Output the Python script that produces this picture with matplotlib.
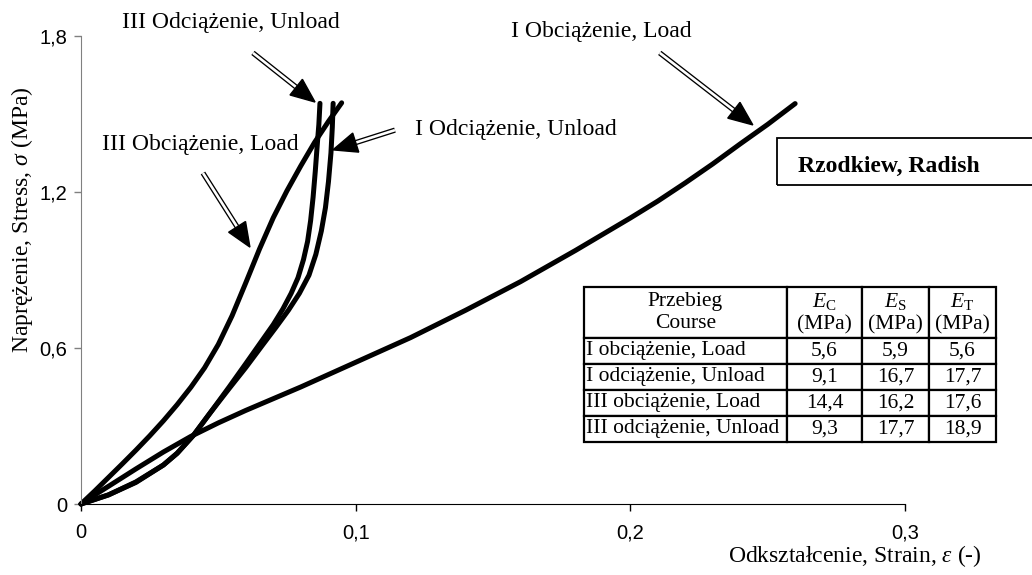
import numpy as np
import matplotlib
matplotlib.use("Agg")
import matplotlib.pyplot as plt
from matplotlib.patches import Polygon, Rectangle

plt.rcParams['font.family'] = ['Liberation Serif', 'DejaVu Serif']
plt.rcParams['mathtext.fontset'] = 'custom'
plt.rcParams['mathtext.rm'] = 'Liberation Serif'
plt.rcParams['mathtext.it'] = 'Liberation Serif:italic'

# strain / stress curves
load1_x = [0, 0.005, 0.01, 0.02, 0.03, 0.04, 0.05, 0.06, 0.08, 0.10, 0.12, 0.14, 0.16, 0.18, 0.20, 0.21,
           0.22, 0.23, 0.24, 0.25, 0.26]
load1_y = [0, 0.035, 0.068, 0.135, 0.20, 0.26, 0.312, 0.36, 0.45, 0.545, 0.64, 0.745, 0.855, 0.975, 1.10, 1.165,
           1.235, 1.308, 1.385, 1.46, 1.54]

unload1_x = [0, 0.01, 0.02, 0.03, 0.035, 0.041, 0.047, 0.054, 0.06, 0.066, 0.071, 0.0755, 0.0795, 0.083,
             0.0855, 0.0875, 0.089, 0.0901, 0.091, 0.0915, 0.0918]
unload1_y = [0, 0.035, 0.083, 0.15, 0.195, 0.265, 0.35, 0.445, 0.525, 0.61, 0.68, 0.745, 0.81, 0.88,
             0.96, 1.05, 1.14, 1.24, 1.35, 1.45, 1.541]

load3_x = [0, 0.005, 0.01, 0.015, 0.02, 0.025, 0.03, 0.035, 0.04, 0.045, 0.05, 0.055, 0.06, 0.065, 0.07,
           0.075, 0.08, 0.085, 0.09, 0.0949]
load3_y = [0, 0.05, 0.102, 0.154, 0.207, 0.262, 0.32, 0.382, 0.449, 0.524, 0.614, 0.724, 0.851, 0.981, 1.101,
           1.205, 1.30, 1.39, 1.47, 1.543]

unload3_x = [0, 0.01, 0.02, 0.03, 0.035, 0.041, 0.047, 0.054, 0.06, 0.065, 0.07, 0.0735, 0.0765, 0.079,
             0.081, 0.0825, 0.0836, 0.0845, 0.0853, 0.086, 0.0866, 0.087]
unload3_y = [0, 0.035, 0.085, 0.15, 0.195, 0.265, 0.35, 0.451, 0.54, 0.615, 0.69, 0.75, 0.81, 0.87,
             0.94, 1.01, 1.09, 1.18, 1.28, 1.38, 1.46, 1.541]

# table
col_labels = ["Przebieg\nCourse", "$E_{\\mathrm{C}}$\n(MPa)", "$E_{\\mathrm{S}}$\n(MPa)", "$E_{\\mathrm{T}}$\n(MPa)"]
courses = ["I obciążenie, Load", "I odciążenie, Unload", "III obciążenie, Load", "III odciążenie, Unload"]
e_c = ["5,6", "9,1", "14,4", "9,3"]
e_s = ["5,9", "16,7", "16,2", "17,7"]
e_t = ["5,6", "17,7", "17,6", "18,9"]

# annotations: text, text position, arrow start, arrow tip
labels = ["III Odciążenie, Unload", "III Obciążenie, Load", "I Odciążenie, Unload", "I Obciążenie, Load"]
label_pos = [(0.0546, 1.831), (0.0433, 1.3615), (0.1584, 1.419), (0.1893, 1.795)]
arrow_start = [(0.0626, 1.735), (0.0444, 1.273), (0.1143, 1.438), (0.2107, 1.735)]
arrow_tip = [(0.0852, 1.546), (0.0615, 0.988), (0.0917, 1.362), (0.2446, 1.458)]

W, H = 1032, 575
fig = plt.figure(figsize=(W / 100, H / 100), dpi=100)
ax = fig.add_axes([81 / W, 71 / H, 824 / W, 468 / H])

for xs, ys in [(load1_x, load1_y), (unload1_x, unload1_y), (load3_x, load3_y), (unload3_x, unload3_y)]:
    ax.plot(xs, ys, color='black', lw=3.6, solid_joinstyle='round', solid_capstyle='round', clip_on=False)

ax.set_xlim(0, 0.3)
ax.set_ylim(0, 1.8)
ax.set_xticks([0, 0.1, 0.2, 0.3])
ax.set_xticklabels(["0", "0,1", "0,2", "0,3"])
ax.set_yticks([0, 0.6, 1.2, 1.8])
ax.set_yticklabels(["0", "0,6", "1,2", "1,8"])
ax.tick_params(labelfontfamily='Liberation Sans', labelsize=14.5, length=5, width=1)
ax.tick_params(axis='x', pad=9)
ax.tick_params(axis='y', pad=5, color='#808080')
ax.spines['top'].set_visible(False)
ax.spines['right'].set_visible(False)
ax.spines['left'].set_color('#808080')
ax.spines['bottom'].set_color('black')


def double_arrow(ax, start, tip, head_len=24, head_w=20):
    p0 = ax.transData.transform(start)
    p1 = ax.transData.transform(tip)
    d = p1 - p0
    u = d / np.hypot(*d)
    n = np.array([-u[1], u[0]])
    base = p1 - u * head_len
    inv = ax.transData.inverted()
    b = inv.transform(base)
    ax.plot([start[0], b[0]], [start[1], b[1]], color='black', lw=3.8, solid_capstyle='butt', clip_on=False, zorder=5)
    ax.plot([start[0], b[0]], [start[1], b[1]], color='white', lw=1.9, solid_capstyle='butt', clip_on=False, zorder=6)
    tri = inv.transform([p1, base + n * head_w / 2, base - n * head_w / 2])
    ax.add_patch(Polygon(tri, closed=True, color='black', clip_on=False, zorder=7))


for txt, pos, s, t in zip(labels, label_pos, arrow_start, arrow_tip):
    ax.text(pos[0], pos[1], txt, fontsize=17, ha='center', va='baseline')
    double_arrow(ax, s, t)

# axis titles
fig.text(982 / W, 13 / H, "Odkształcenie, Strain, $\\varepsilon$ (-)", fontsize=17, ha='right', va='baseline')
fig.text(22 / W, (H - 220) / H, "Naprężenie, Stress, $\\sigma$ (MPa)", fontsize=17, rotation=90,
         ha='center', va='center')

# title box
fig.patches.append(Rectangle((777 / W, (H - 185) / H), 300 / W, 47 / H, transform=fig.transFigure,
                             fill=False, edgecolor='black', lw=1.3))
fig.text(798 / W, (H - 172) / H, "Rzodkiew, Radish", fontsize=17, weight='bold', va='baseline')

# table
tax = fig.add_axes([584 / W, (H - 442) / H, 412 / W, 155 / H])
tax.axis('off')
rows = [[c, a, b, d] for c, a, b, d in zip(courses, e_c, e_s, e_t)]
tab = tax.table(cellText=rows, colLabels=col_labels, colWidths=[203, 75, 67, 67],
                cellLoc='center', bbox=[0, 0, 1, 1])
tab.auto_set_font_size(False)
tab.set_fontsize(15.5)
for (r, c), cell in tab.get_celld().items():
    cell.set_linewidth(1.6)
    cell.set_edgecolor('black')
    if r == 0:
        cell.set_height(cell.get_height() * 1.96)
    elif c == 0:
        cell._loc = 'left'
        cell.PAD = 0.012
        cell.get_text().set_horizontalalignment('left')

fig.savefig("out.png", dpi=100)
